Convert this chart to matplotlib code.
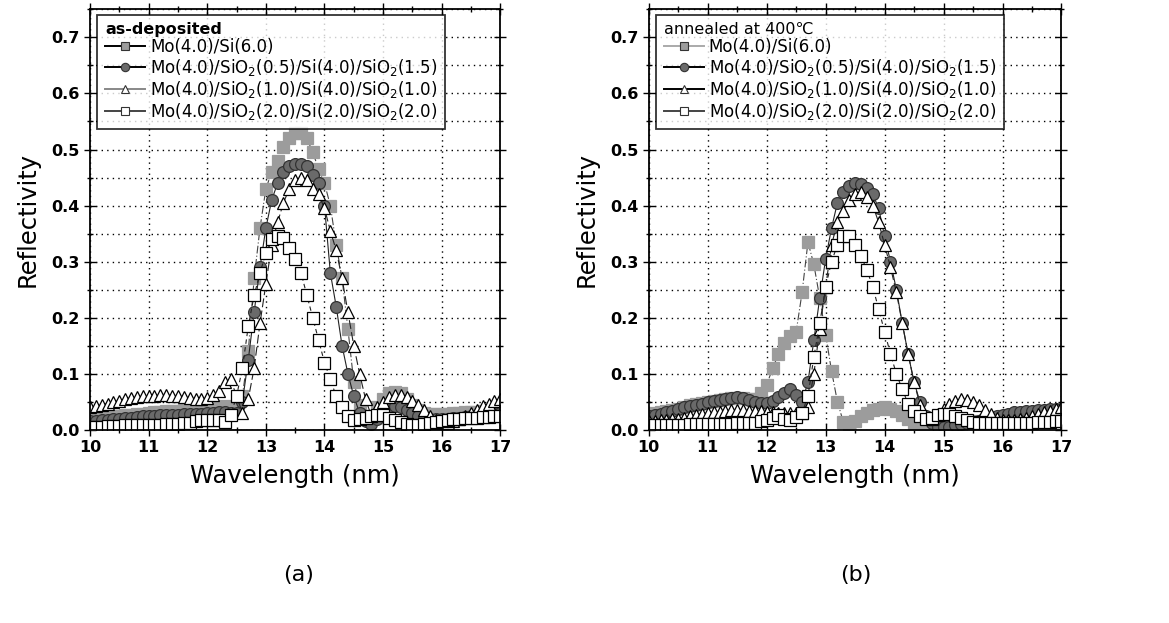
import matplotlib
matplotlib.use("Agg")
import matplotlib.pyplot as plt
from matplotlib.lines import Line2D
from matplotlib.ticker import MultipleLocator

plt.rcParams['font.family'] = ['DejaVu Sans', 'Noto Sans CJK JP']
plt.rcParams['mathtext.default'] = 'regular'

# wavelength grid (nm)
wl = [10.0, 10.1, 10.2, 10.3, 10.4, 10.5, 10.6, 10.7, 10.8, 10.9,
      11.0, 11.1, 11.2, 11.3, 11.4, 11.5, 11.6, 11.7, 11.8, 11.9,
      12.0, 12.1, 12.2, 12.3, 12.4, 12.5, 12.6, 12.7, 12.8, 12.9,
      13.0, 13.1, 13.2, 13.3, 13.4, 13.5, 13.6, 13.7, 13.8, 13.9,
      14.0, 14.1, 14.2, 14.3, 14.4, 14.5, 14.6, 14.7, 14.8, 14.9,
      15.0, 15.1, 15.2, 15.3, 15.4, 15.5, 15.6, 15.7, 15.8, 15.9,
      16.0, 16.1, 16.2, 16.3, 16.4, 16.5, 16.6, 16.7, 16.8, 16.9,
      17.0]

labels = ['Mo(4.0)/Si(6.0)',
          'Mo(4.0)/SiO$_2$(0.5)/Si(4.0)/SiO$_2$(1.5)',
          'Mo(4.0)/SiO$_2$(1.0)/Si(4.0)/SiO$_2$(1.0)',
          'Mo(4.0)/SiO$_2$(2.0)/Si(2.0)/SiO$_2$(2.0)']

# (a) as-deposited
as_mosi = [0.020, 0.021, 0.022, 0.023, 0.024, 0.025, 0.026, 0.027, 0.028, 0.029,
           0.030, 0.031, 0.032, 0.033, 0.034, 0.034, 0.035, 0.035, 0.036, 0.037,
           0.038, 0.039, 0.040, 0.042, 0.040, 0.035, 0.060, 0.140, 0.270, 0.360,
           0.430, 0.460, 0.480, 0.505, 0.520, 0.530, 0.530, 0.520, 0.495, 0.465,
           0.440, 0.400, 0.330, 0.270, 0.180, 0.085, 0.045, 0.020, 0.025, 0.040,
           0.055, 0.065, 0.068, 0.065, 0.055, 0.045, 0.035, 0.030, 0.028, 0.028,
           0.028, 0.029, 0.030, 0.030, 0.031, 0.032, 0.032, 0.033, 0.034, 0.035,
           0.035]
as_sio05 = [0.015, 0.016, 0.017, 0.018, 0.019, 0.020, 0.021, 0.022, 0.023, 0.024,
            0.025, 0.025, 0.026, 0.026, 0.027, 0.027, 0.028, 0.028, 0.029, 0.029,
            0.030, 0.030, 0.031, 0.031, 0.030, 0.030, 0.050, 0.125, 0.210, 0.290,
            0.360, 0.410, 0.440, 0.460, 0.470, 0.475, 0.475, 0.470, 0.455, 0.440,
            0.400, 0.280, 0.220, 0.150, 0.100, 0.060, 0.030, 0.015, 0.010, 0.020,
            0.030, 0.038, 0.042, 0.040, 0.035, 0.030, 0.025, 0.022, 0.020, 0.020,
            0.020, 0.020, 0.021, 0.022, 0.023, 0.024, 0.025, 0.026, 0.027, 0.028,
            0.030]
as_sio10 = [0.040, 0.042, 0.045, 0.047, 0.050, 0.052, 0.055, 0.057, 0.058, 0.060,
            0.060, 0.061, 0.062, 0.062, 0.061, 0.060, 0.058, 0.056, 0.055, 0.055,
            0.057, 0.062, 0.070, 0.085, 0.090, 0.060, 0.030, 0.055, 0.110, 0.190,
            0.260, 0.330, 0.370, 0.405, 0.430, 0.445, 0.450, 0.445, 0.430, 0.420,
            0.395, 0.355, 0.320, 0.270, 0.210, 0.150, 0.100, 0.055, 0.025, 0.040,
            0.050, 0.058, 0.062, 0.062, 0.058, 0.052, 0.045, 0.035, 0.025, 0.018,
            0.012, 0.012, 0.015, 0.020, 0.025, 0.030, 0.036, 0.042, 0.047, 0.052,
            0.055]
as_sio20 = [0.006, 0.006, 0.006, 0.007, 0.007, 0.007, 0.008, 0.008, 0.008, 0.008,
            0.008, 0.009, 0.009, 0.010, 0.010, 0.011, 0.012, 0.013, 0.015, 0.017,
            0.018, 0.018, 0.018, 0.014, 0.026, 0.060, 0.110, 0.185, 0.240, 0.280,
            0.315, 0.340, 0.345, 0.342, 0.325, 0.305, 0.280, 0.240, 0.200, 0.160,
            0.120, 0.090, 0.060, 0.040, 0.025, 0.018, 0.020, 0.022, 0.025, 0.026,
            0.026, 0.022, 0.018, 0.014, 0.010, 0.009, 0.009, 0.010, 0.012, 0.014,
            0.016, 0.018, 0.019, 0.020, 0.021, 0.022, 0.022, 0.023, 0.023, 0.024,
            0.025]

# (b) annealed at 400 C
an_mosi = [0.028, 0.030, 0.032, 0.034, 0.036, 0.038, 0.041, 0.044, 0.046, 0.048,
           0.050, 0.052, 0.054, 0.055, 0.056, 0.057, 0.056, 0.055, 0.055, 0.065,
           0.080, 0.110, 0.135, 0.155, 0.168, 0.175, 0.245, 0.335, 0.295, 0.235,
           0.170, 0.105, 0.050, 0.014, 0.008, 0.015, 0.025, 0.030, 0.035, 0.038,
           0.040, 0.037, 0.033, 0.027, 0.020, 0.012, 0.008, 0.005, 0.004, 0.004,
           0.005, 0.006, 0.008, 0.010, 0.012, 0.014, 0.016, 0.018, 0.020, 0.022,
           0.024, 0.025, 0.026, 0.027, 0.028, 0.029, 0.030, 0.031, 0.032, 0.033,
           0.034]
an_sio05 = [0.025, 0.027, 0.029, 0.031, 0.034, 0.037, 0.040, 0.043, 0.045, 0.047,
            0.049, 0.051, 0.053, 0.055, 0.057, 0.058, 0.056, 0.054, 0.050, 0.048,
            0.048, 0.052, 0.058, 0.066, 0.072, 0.062, 0.050, 0.085, 0.160, 0.235,
            0.305, 0.360, 0.405, 0.425, 0.435, 0.440, 0.438, 0.432, 0.420, 0.395,
            0.345, 0.300, 0.250, 0.190, 0.135, 0.085, 0.050, 0.025, 0.012, 0.006,
            0.005, 0.006, 0.008, 0.010, 0.012, 0.014, 0.016, 0.019, 0.022, 0.025,
            0.027, 0.029, 0.031, 0.032, 0.033, 0.034, 0.035, 0.036, 0.037, 0.038,
            0.038]
an_sio10 = [0.015, 0.016, 0.017, 0.018, 0.019, 0.020, 0.022, 0.024, 0.026, 0.028,
            0.030, 0.031, 0.032, 0.034, 0.035, 0.036, 0.035, 0.034, 0.033, 0.033,
            0.032, 0.031, 0.030, 0.030, 0.030, 0.030, 0.030, 0.040, 0.100, 0.180,
            0.255, 0.330, 0.370, 0.390, 0.410, 0.420, 0.425, 0.415, 0.400, 0.370,
            0.330, 0.290, 0.245, 0.190, 0.135, 0.085, 0.045, 0.022, 0.020, 0.028,
            0.038, 0.046, 0.052, 0.055, 0.054, 0.050, 0.044, 0.036, 0.028, 0.022,
            0.018, 0.017, 0.018, 0.020, 0.022, 0.025, 0.028, 0.031, 0.034, 0.037,
            0.040]
an_sio20 = [0.008, 0.008, 0.008, 0.009, 0.009, 0.009, 0.009, 0.010, 0.010, 0.010,
            0.010, 0.010, 0.011, 0.011, 0.011, 0.012, 0.012, 0.012, 0.013, 0.015,
            0.018, 0.022, 0.026, 0.020, 0.018, 0.023, 0.030, 0.060, 0.130, 0.190,
            0.255, 0.300, 0.330, 0.345, 0.345, 0.330, 0.310, 0.285, 0.255, 0.215,
            0.175, 0.135, 0.100, 0.072, 0.047, 0.034, 0.024, 0.020, 0.022, 0.026,
            0.029, 0.028, 0.025, 0.021, 0.017, 0.014, 0.013, 0.013, 0.012, 0.012,
            0.012, 0.012, 0.012, 0.013, 0.013, 0.013, 0.014, 0.014, 0.014, 0.015,
            0.015]

light = '#9c9c9c'
dark = '#6a6a6a'

styles = [
    dict(marker='s', mfc=light, mec=light, ls=(0, (7, 2, 1, 2)), color='#444444'),
    dict(marker='o', mfc=dark, mec='#333333', ls='-', color='#222222'),
    dict(marker='^', mfc='white', mec='black', ls=(0, (8, 3)), color='#222222'),
    dict(marker='s', mfc='white', mec='black', ls=(0, (4, 3)), color='#222222'),
]

fig = plt.figure(figsize=(11.69, 6.23), dpi=100)
ax1 = fig.add_axes([0.077, 0.31, 0.351, 0.675])
ax2 = fig.add_axes([0.555, 0.31, 0.353, 0.675])


def draw(ax, series, title, title_weight, legend_colors):
    for y, st in zip(series, styles):
        ax.plot(wl, y, marker=st['marker'], markersize=8.5, markerfacecolor=st['mfc'],
                markeredgecolor=st['mec'], markeredgewidth=0.9,
                linestyle=st['ls'], color=st['color'], linewidth=0.8)
    ax.set_xlim(10, 17)
    ax.set_ylim(0, 0.75)
    ax.xaxis.set_major_locator(MultipleLocator(1))
    ax.xaxis.set_minor_locator(MultipleLocator(0.5))
    ax.yaxis.set_major_locator(MultipleLocator(0.1))
    ax.yaxis.set_minor_locator(MultipleLocator(0.05))
    ax.yaxis.set_major_formatter(matplotlib.ticker.FormatStrFormatter('%.1f'))
    ax.grid(which='major', linestyle=(0, (1, 3)), color='black', linewidth=1.0)
    ax.yaxis.grid(which='minor', linestyle=(0, (1, 3)), color='black', linewidth=1.0)
    ax.set_axisbelow(True)
    ax.tick_params(which='both', direction='inout', top=True, right=True,
                   labelsize=11.5, width=1.0)
    ax.tick_params(which='major', length=8)
    ax.tick_params(which='minor', length=5)
    for lab in ax.get_xticklabels() + ax.get_yticklabels():
        lab.set_fontweight('bold')
    for sp in ax.spines.values():
        sp.set_linewidth(1.3)
    ax.set_xlabel('Wavelength (nm)', fontsize=17.5, labelpad=6)
    ax.set_ylabel('Reflectivity', fontsize=17.5, labelpad=8)

    handles = []
    for st, lc in zip(styles, legend_colors):
        handles.append(Line2D([], [], marker=st['marker'], markersize=6,
                              markerfacecolor=st['mfc'], markeredgecolor='#333333',
                              markeredgewidth=0.8, color=lc, linewidth=1.4))
    leg = ax.legend(handles, labels, title=title, loc='upper left',
                    bbox_to_anchor=(0.01, 0.995), fontsize=12, title_fontsize=11.5,
                    frameon=True, fancybox=False, edgecolor='black',
                    handlelength=2.4, handletextpad=0.3, borderpad=0.45,
                    labelspacing=0.05, borderaxespad=0.2)
    leg._legend_box.align = 'left'
    leg.get_title().set_fontweight(title_weight)
    leg.get_frame().set_linewidth(1.3)
    leg.set_zorder(5)


draw(ax1, [as_mosi, as_sio05, as_sio10, as_sio20], 'as-deposited', 'bold',
     ['black', 'black', '#888888', '#444444'])
draw(ax2, [an_mosi, an_sio05, an_sio10, an_sio20], 'annealed at 400\u2103', 'normal',
     ['#aaaaaa', 'black', 'black', '#444444'])

fig.text(0.255, 0.068, '(a)', fontsize=16, ha='center')
fig.text(0.732, 0.068, '(b)', fontsize=16, ha='center')

fig.savefig('out.png', dpi=100)
